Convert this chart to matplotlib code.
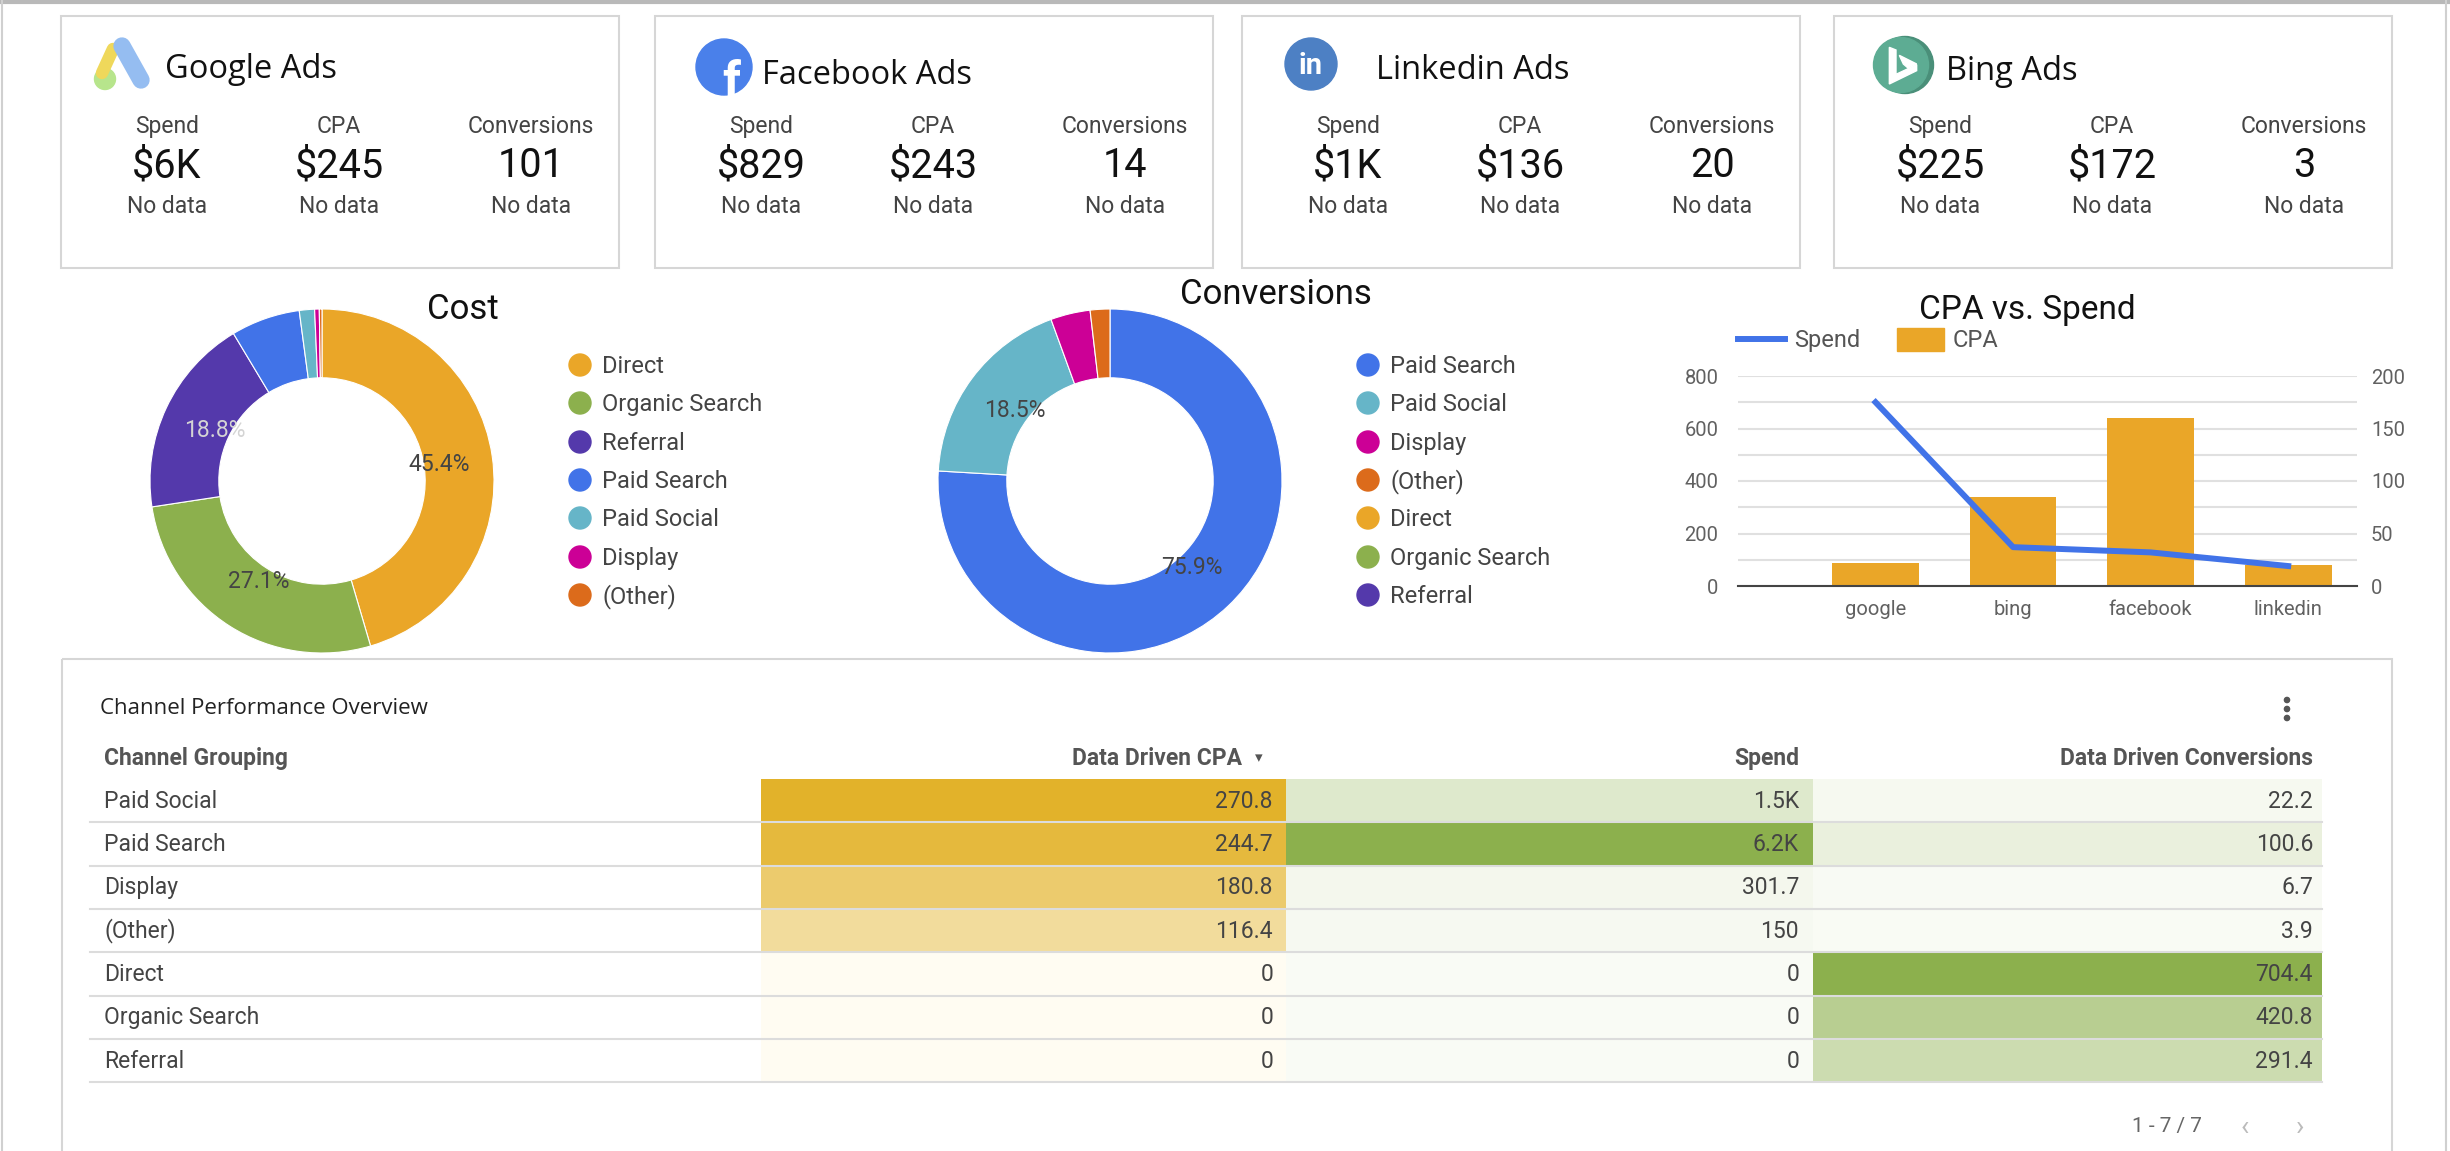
import matplotlib
matplotlib.use("Agg")
import matplotlib.pyplot as plt
from matplotlib.patches import Rectangle, Circle, Polygon
from matplotlib.colors import LinearSegmentedColormap, Normalize, to_rgb
import numpy as np

plt.rcParams['font.family'] = ['Roboto', 'DejaVu Sans']

W, H, DPI = 2450, 1151, 100

# ---- scorecards ----
ad_platforms = ["Google Ads", "Facebook Ads", "Linkedin Ads", "Bing Ads"]
platform_spend = ["$6K", "$829", "$1K", "$225"]
platform_cpa = ["$245", "$243", "$136", "$172"]
platform_conv = ["101", "14", "20", "3"]
score_labels = ["Spend", "CPA", "Conversions"]

# ---- channel table (sorted by CPA) ----
channels = ["Paid Social", "Paid Search", "Display", "(Other)", "Direct", "Organic Search", "Referral"]
cpa = [270.8, 244.7, 180.8, 116.4, 0, 0, 0]
spend = [1501, 6160, 301.7, 150, 0, 0, 0]
conversions = [22.2, 100.6, 6.7, 3.9, 704.4, 420.8, 291.4]
table_headers = ["Channel Grouping", "Data Driven CPA", "Spend", "Data Driven Conversions"]

channel_colors = {
    "Direct": "#eaa628",
    "Organic Search": "#8cb04d",
    "Referral": "#5439ab",
    "Paid Search": "#4173e8",
    "Paid Social": "#66b5c8",
    "Display": "#cc0096",
    "(Other)": "#dc6b1b",
}

# ---- CPA vs Spend ----
sources = ["google", "bing", "facebook", "linkedin"]
source_cpa = [87, 340, 640, 80]
source_spend = [175, 37, 32, 19]

fig = plt.figure(figsize=(W / DPI, H / DPI), dpi=DPI)
fig.patch.set_facecolor("white")

ax0 = fig.add_axes([0, 0, 1, 1])
ax0.set_xlim(0, W)
ax0.set_ylim(H, 0)
ax0.axis("off")

WIDE = ["Open Sans", "DejaVu Sans"]


def px(pt):
    return pt * DPI / 72


def txt(x, yc, s, size, ha="left", color="#444", weight="normal", **kw):
    # yc is the vertical middle of the capitals, in pixels from the top
    return ax0.text(x, yc + 0.711 * px(size) / 2, s, fontsize=size, ha=ha,
                    va="baseline", color=color, fontweight=weight, **kw)


def add_ax(x0, y0, x1, y1):
    return fig.add_axes([x0 / W, 1 - y1 / H, (x1 - x0) / W, (y1 - y0) / H])


# page frame
ax0.plot([0, W], [1.5, 1.5], color="#b9b9b9", lw=3)
ax0.plot([1.5, 1.5], [0, H], color="#d0d0d0", lw=1.5)
ax0.plot([2446, 2446], [0, H], color="#d0d0d0", lw=1.5)

# ---- scorecards ----
card_left = [61, 655, 1242, 1834]
title_x = [165, 762, 1376, 1946]
title_y = [66, 72, 67, 68]
for i, name in enumerate(ad_platforms):
    L = card_left[i]
    ax0.add_patch(Rectangle((L, 16), 558, 252, fill=False, ec="#d6d6d6", lw=1.5))
    txt(title_x[i], title_y[i], name, 23.5, color="#111", family=WIDE)
    vals = [platform_spend[i], platform_cpa[i], platform_conv[i]]
    for cx, lab, val in zip([L + 106, L + 278, L + 470], score_labels, vals):
        txt(cx, 125, lab, 16.5, ha="center", color="#444")
        txt(cx, 163, val, 28.5, ha="center", color="#111")
        txt(cx, 205, "No data", 16.5, ha="center", color="#444")

# Google Ads icon
ax0.plot([113, 102], [49, 73], color="#efd85b", lw=9, solid_capstyle="round")
ax0.plot([122, 141], [46, 80], color="#95bdf1", lw=12.5, solid_capstyle="round")
ax0.add_patch(Circle((105, 79), 10.5, color="#b7e58c"))
# Facebook icon
fb = Circle((724, 67), 28, color="#4a80ea")
ax0.add_patch(fb)
t = ax0.text(731, 97, "f", fontsize=36, fontweight="bold", color="white", ha="center", va="baseline")
t.set_clip_path(fb)
# Linkedin icon
ax0.add_patch(Circle((1311, 64), 26, color="#4d80c4"))
ax0.text(1311, 66, "in", fontsize=21, fontweight="bold", color="white", ha="center", va="center")
# Bing icon
ax0.add_patch(Circle((1905, 65), 28.5, color="#4a8f79"))
ax0.add_patch(Circle((1901, 65), 27.5, color="#5dac93"))
bing_stem = [(148, 82), (168, 90), (168, 163), (230, 134), (230, 152), (148, 192)]
bing_wedge = [(178, 106), (230, 132), (204, 144), (190, 132)]
for shape in (bing_stem, bing_wedge):
    ax0.add_patch(Polygon([(1840 + a / 3, 20 + b / 3) for a, b in shape], closed=True, color="white"))

# ---- donuts ----
R = 172
legend_rows = [365, 403, 442, 480, 518, 557, 595]


def donut(cx, cy, values, title, title_xy, title_size, legend_x):
    order = sorted(range(len(values)), key=lambda k: -values[k])
    vals = [values[k] for k in order]
    names = [channels[k] for k in order]
    cols = [channel_colors[n] for n in names]
    ax = add_ax(cx - R, cy - R, cx + R, cy + R)
    nz = [k for k, v in enumerate(vals) if v > 0]
    wedges, _, autos = ax.pie(
        [vals[k] for k in nz], colors=[cols[k] for k in nz], startangle=90,
        counterclock=False, radius=1,
        wedgeprops=dict(width=0.4, edgecolor="white", linewidth=0.8),
        autopct=lambda p: f"{p:.1f}%" if p >= 10 else "", pctdistance=0.69,
        textprops=dict(fontsize=16.5))
    for w, a in zip(wedges, autos):
        r, g, b = to_rgb(w.get_facecolor())
        lum = 0.299 * r + 0.587 * g + 0.114 * b
        a.set_color("#d4d4d4" if lum < 0.35 else "#444444")
    ax.set_xlim(-1, 1)
    ax.set_ylim(-1, 1)
    ax.set_aspect("auto")
    ax.axis("off")
    txt(title_xy[0], title_xy[1], title, title_size, ha="center", color="#111")
    for k, n in enumerate(names):
        ax0.add_patch(Circle((legend_x, legend_rows[k]), 11, color=channel_colors[n]))
        txt(legend_x + 22, legend_rows[k], n, 17, color="#444")


donut(322, 481, conversions, "Cost", (463, 307), 25, 580)
donut(1110, 481, spend, "Conversions", (1276, 292), 25, 1368)

# ---- CPA vs Spend combo ----
axb = add_ax(1738, 376, 2357, 586)
xpos = np.arange(len(sources))
axb.bar(xpos, source_cpa, width=0.63, color="#eaa628", zorder=2)
axb.set_xlim(-1, 3.5)
axb.set_ylim(0, 800)
axb.set_yticks(range(0, 801, 200))
axb.set_yticks(range(100, 800, 200), minor=True)
axb.grid(axis="y", which="both", color="#e0e0e0", lw=1.5)
axb.set_axisbelow(True)
axb.set_xticks(xpos)
axb.set_xticklabels(sources)
axb.tick_params(axis="y", which="both", length=0, labelsize=14.5, labelcolor="#616161", pad=14)
axb.tick_params(axis="x", length=0, labelsize=14.5, labelcolor="#616161", pad=10)
for s in axb.spines.values():
    s.set_visible(False)
axb.axhline(0, color="#444", lw=1.5, zorder=3, clip_on=False)

ax2 = axb.twinx()
ax2.plot(xpos, source_spend, color="#4173e8", lw=4.3, zorder=4)
ax2.set_ylim(0, 200)
ax2.set_yticks(range(0, 201, 50))
ax2.tick_params(axis="y", length=0, labelsize=14.5, labelcolor="#616161", pad=10)
for s in ax2.spines.values():
    s.set_visible(False)

txt(2027, 307, "CPA vs. Spend", 24, ha="center", color="#111")
ax0.plot([1738, 1785], [339, 339], color="#4173e8", lw=4.3)
txt(1794, 339, "Spend", 17, color="#555")
ax0.add_patch(Rectangle((1897, 328), 47, 23, color="#eaa628"))
txt(1953, 339, "CPA", 17, color="#555")

# ---- table ----
ax0.add_patch(Rectangle((62, 659), 2330, 540, fill=False, ec="#d6d6d6", lw=1.5))
txt(100, 706, "Channel Performance Overview", 16, color="#222", family=WIDE)
for dy in (-9, 0, 9):
    ax0.add_patch(Circle((2287, 709 + dy), 2.6, color="#555"))

col_x0 = [761, 1286, 1813]
col_x1 = [1286, 1813, 2322]
num_x = [1273, 1799, 2313]
row_top, row_h = 779, 43.3
head_y = 757

txt(104, head_y, table_headers[0], 16.5, color="#555", weight="bold")
txt(1242, head_y, table_headers[1], 16.5, ha="right", color="#555", weight="bold")
ax0.text(1259, head_y + 1, "▾", fontsize=11, ha="center", va="center", color="#555")
txt(num_x[1], head_y, table_headers[2], 16.5, ha="right", color="#555", weight="bold")
txt(num_x[2], head_y, table_headers[3], 16.5, ha="right", color="#555", weight="bold")


def fmt_cpa(v):
    return "0" if v == 0 else f"{v:.1f}"


def fmt_spend(v):
    if v >= 1000:
        return f"{v / 1000:.1f}K"
    return f"{v:g}"


columns = [cpa, spend, conversions]
formats = [fmt_cpa, fmt_spend, fmt_cpa]
cmaps = [LinearSegmentedColormap.from_list("gold", ["#fffcf2", "#e2b22a"]),
         LinearSegmentedColormap.from_list("grn", ["#f9fbf5", "#8cb04d"]),
         LinearSegmentedColormap.from_list("grn2", ["#f9fbf5", "#8cb04d"])]

for r, ch in enumerate(channels):
    y0 = row_top + r * row_h
    yc = y0 + row_h / 2 - 1
    txt(104, yc, ch, 16.5, color="#444")
    for c, col in enumerate(columns):
        norm = Normalize(0, max(col))
        ax0.add_patch(Rectangle((col_x0[c], y0), col_x1[c] - col_x0[c], row_h,
                                color=cmaps[c](norm(col[r])), lw=0))
        txt(num_x[c], yc, formats[c](col[r]), 16.5, ha="right", color="#444")
    ax0.plot([90, 2322], [y0 + row_h, y0 + row_h], color="#dcdcdc", lw=1.5)

txt(2202, 1125, "1 - 7 / 7", 15, ha="right", color="#666")
txt(2245, 1125, "‹", 20, ha="center", color="#bbbbbb")
txt(2300, 1125, "›", 20, ha="center", color="#bbbbbb")

fig.savefig("out.png", dpi=DPI)
